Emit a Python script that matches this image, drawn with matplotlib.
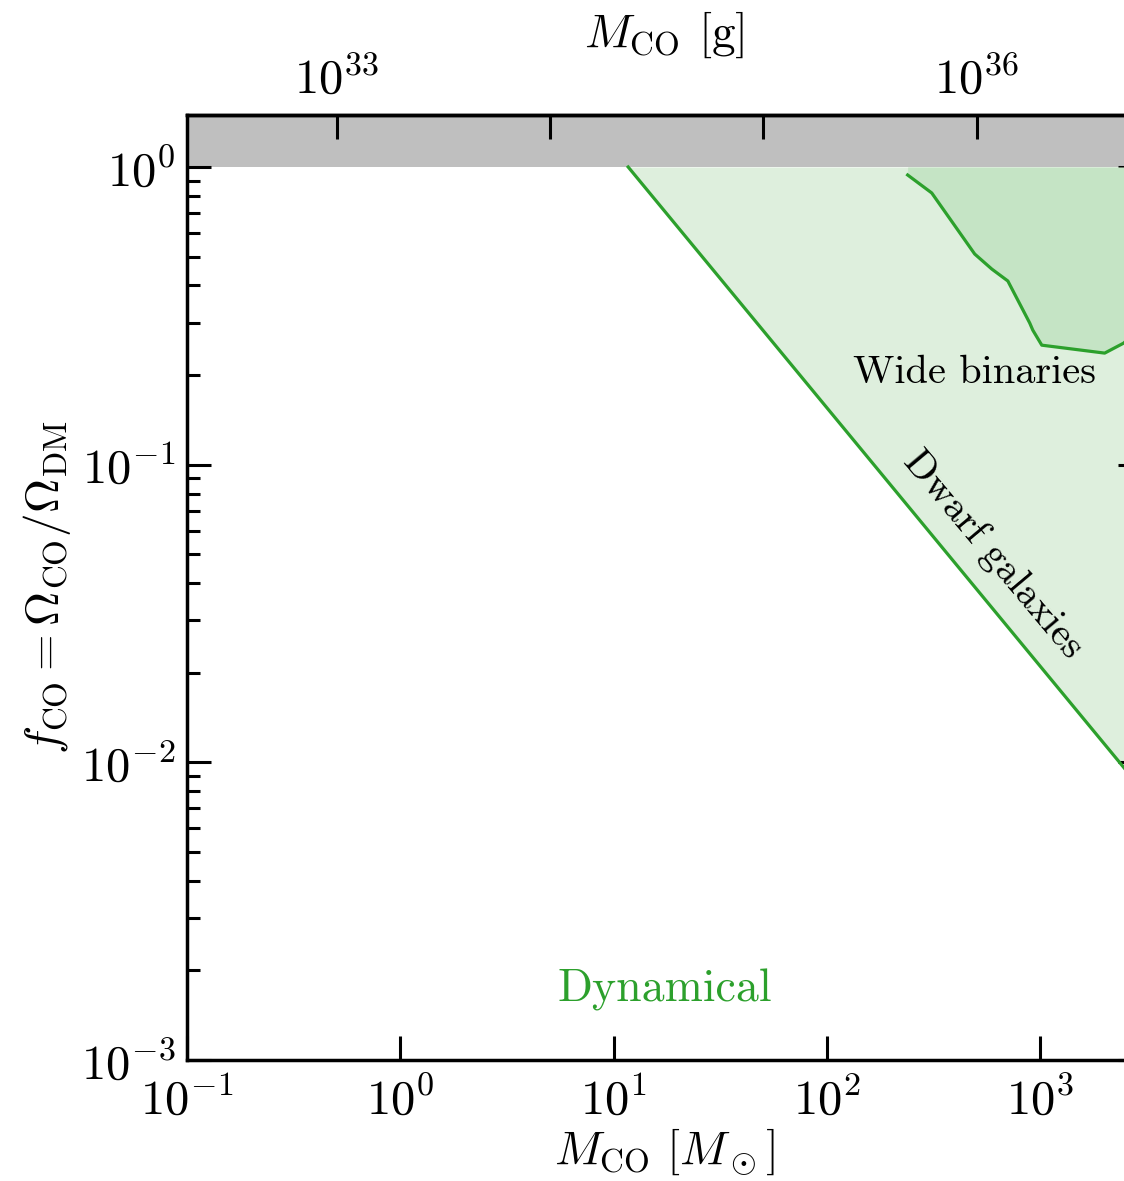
import numpy as np
import matplotlib.pyplot as plt
from matplotlib.ticker import FixedLocator, FixedFormatter, NullLocator, LogLocator

plt.rcParams['font.family'] = 'serif'
plt.rcParams['font.serif'] = ['cmr10']
plt.rcParams['mathtext.fontset'] = 'cm'
plt.rcParams['axes.unicode_minus'] = False
plt.rcParams['axes.formatter.use_mathtext'] = True

MSUN_G = 1.989e33

# dwarf galaxy bound (Msun, f)
dwarf_m = [11.7, 3000.0]
dwarf_f = [1.0, 0.0081]

# wide binaries bound (Msun, f)
wb_m = [239, 310, 493, 593, 705, 893, 923, 1017, 2005, 2460, 3000]
wb_f = [0.940, 0.818, 0.510, 0.454, 0.414, 0.299, 0.283, 0.252, 0.237, 0.256, 0.29]

green = '#2ca02c'

fig = plt.figure(figsize=(11.24, 11.81), dpi=100)
ax = fig.add_axes([187/1124, 1 - 1060/1181, (1142-187)/1124, (1060-115)/1181])

ax.set_xscale('log')
ax.set_yscale('log')
ax.set_xlim(0.1, 3000)
ax.set_ylim(1e-3, 1.495)

ax.axhspan(1.0, 10, color='#bfbfbf', lw=0, zorder=0.5)

ax.fill_between(dwarf_m, dwarf_f, 1.0, color='#deefdd', lw=0, zorder=1)
ax.plot(dwarf_m, dwarf_f, color=green, lw=2.3, zorder=3)

ax.fill_between(wb_m, wb_f, 1.0, color='#c5e4c5', lw=0, zorder=2)
ax.plot(wb_m, wb_f, color=green, lw=2.3, zorder=3)

ax.text(493, 0.203, 'Wide binaries', fontsize=29, ha='center', va='center')
ax.text(600, 0.05, 'Dwarf galaxies', fontsize=29, ha='center', va='center',
        rotation=-50, rotation_mode='anchor')
ax.text(17.4, 0.00172, 'Dynamical', fontsize=33, color=green, ha='center', va='center')

for s in ax.spines.values():
    s.set_linewidth(2.5)

ax.tick_params(which='both', direction='in', labelsize=35, width=2.2, right=True)
ax.tick_params(which='major', length=17)
ax.tick_params(which='minor', length=9)
ax.tick_params(axis='x', pad=12)
ax.tick_params(axis='y', pad=8)
ax.xaxis.set_minor_locator(NullLocator())
ax.yaxis.set_minor_locator(LogLocator(base=10, subs=np.arange(2, 10)))
ax.tick_params(axis='y', which='minor', right=False)

ax.set_xlabel(r'$M_{\rm CO}\ [M_\odot]$', fontsize=34, labelpad=2)
ax.set_ylabel(r'$f_{\rm CO} = \Omega_{\rm CO}/\Omega_{\rm DM}$', fontsize=34, labelpad=6)

sec = ax.secondary_xaxis('top', functions=(lambda m: m * MSUN_G, lambda g: g / MSUN_G))
sec.set_zorder(10)
sec.xaxis.set_major_locator(FixedLocator([1e33, 1e34, 1e35, 1e36]))
sec.xaxis.set_major_formatter(FixedFormatter([r'$10^{33}$', '', '', r'$10^{36}$']))
sec.xaxis.set_minor_locator(NullLocator())
sec.tick_params(direction='in', length=17, width=2.2, labelsize=35, pad=8)
sec.spines['top'].set_linewidth(2.5)
sec.set_xlabel(r'$M_{\rm CO}$ [g]', fontsize=34, labelpad=8)

fig.savefig('out.png', dpi=100)
